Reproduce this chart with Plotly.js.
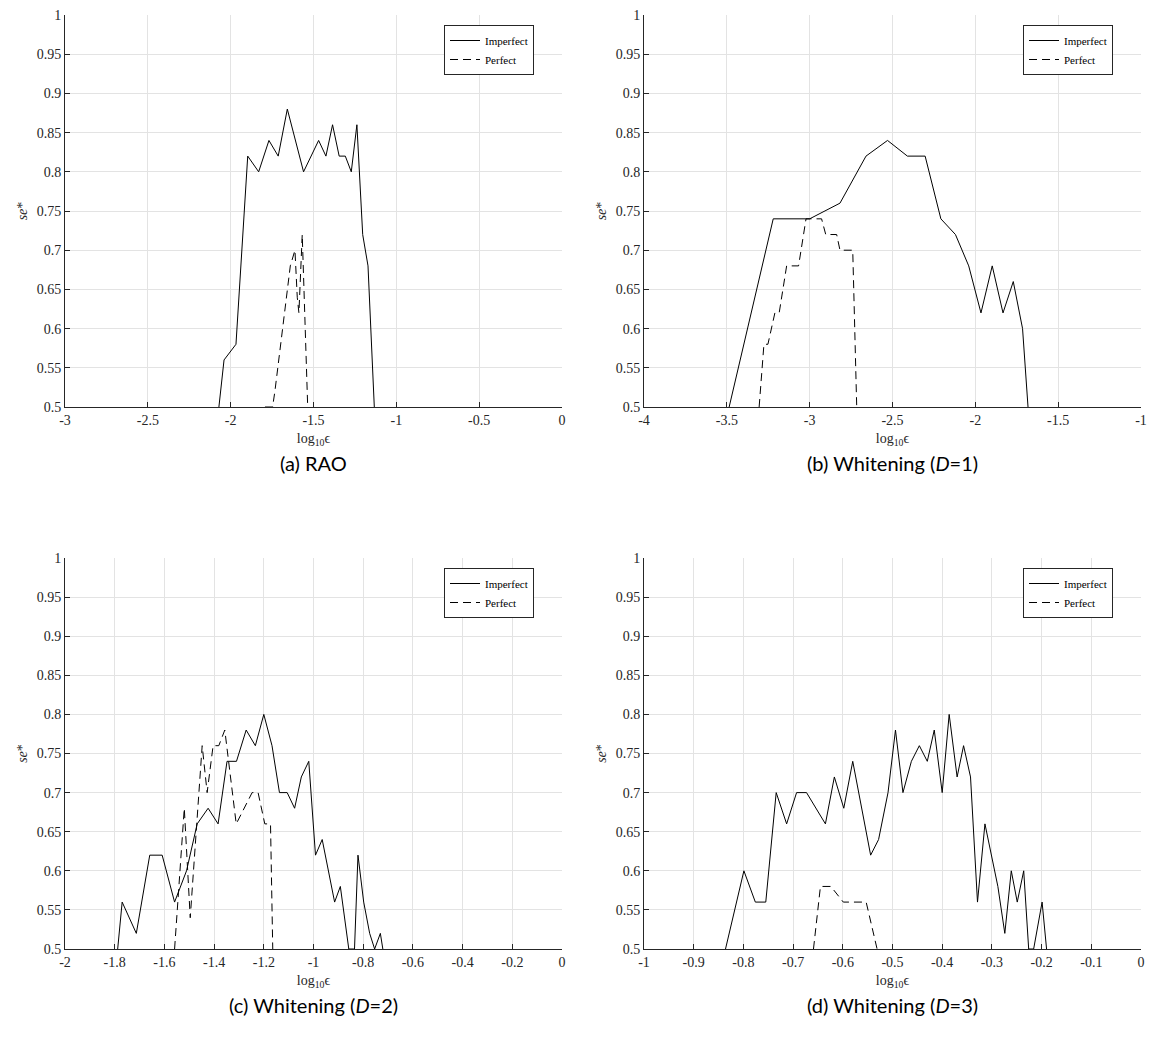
<!DOCTYPE html>
<html>
<head>
<meta charset="utf-8">
<script src="https://cdn.plot.ly/plotly-3.0.1.min.js"></script>
<style>html,body{margin:0;padding:0;background:#fff;}#chart{width:1149px;height:1052px;}</style>
</head>
<body>
<div id="chart"></div>
<script>
// ---- data ----
const seriesNames = ["Imperfect", "Perfect"];
const panelCaptions = ["(a) RAO", "(b) Whitening (<i>D</i>=1)", "(c) Whitening (<i>D</i>=2)", "(d) Whitening (<i>D</i>=3)"];

const raoImperfectX = [-2.071,-2.04,-1.968,-1.897,-1.831,-1.769,-1.713,-1.658,-1.56,-1.469,-1.425,-1.385,-1.345,-1.308,-1.272,-1.238,-1.203,-1.171,-1.133];
const raoImperfectY = [0.5,0.56,0.58,0.82,0.80,0.84,0.82,0.88,0.80,0.84,0.82,0.86,0.82,0.82,0.80,0.86,0.72,0.68,0.5];
const raoPerfectX = [-1.793,-1.747,-1.733,-1.64,-1.612,-1.598,-1.588,-1.568,-1.535];
const raoPerfectY = [0.5,0.5,0.52,0.68,0.70,0.64,0.62,0.72,0.5];

const w1ImperfectX = [-3.486,-3.22,-3.0,-2.817,-2.66,-2.53,-2.41,-2.303,-2.208,-2.12,-2.04,-1.966,-1.898,-1.833,-1.771,-1.715,-1.682];
const w1ImperfectY = [0.5,0.74,0.74,0.76,0.82,0.84,0.82,0.82,0.74,0.72,0.68,0.62,0.68,0.62,0.66,0.60,0.5];
const w1PerfectX = [-3.305,-3.276,-3.252,-3.21,-3.184,-3.139,-3.067,-3.022,-2.928,-2.903,-2.837,-2.817,-2.74,-2.716];
const w1PerfectY = [0.5,0.58,0.58,0.62,0.62,0.68,0.68,0.74,0.74,0.72,0.72,0.70,0.70,0.5];

const w2ImperfectX = [-1.788,-1.770,-1.713,-1.659,-1.609,-1.559,-1.511,-1.468,-1.424,-1.384,-1.348,-1.310,-1.271,-1.234,-1.2,-1.167,-1.137,-1.106,-1.076,-1.049,-1.019,-0.992,-0.965,-0.915,-0.892,-0.858,-0.835,-0.821,-0.798,-0.774,-0.754,-0.731,-0.721];
const w2ImperfectY = [0.5,0.56,0.52,0.62,0.62,0.56,0.60,0.66,0.68,0.66,0.74,0.74,0.78,0.76,0.80,0.76,0.70,0.70,0.68,0.72,0.74,0.62,0.64,0.56,0.58,0.5,0.5,0.62,0.56,0.52,0.5,0.52,0.5];
const w2PerfectX = [-1.559,-1.52,-1.496,-1.448,-1.428,-1.404,-1.381,-1.357,-1.311,-1.247,-1.223,-1.196,-1.173,-1.164];
const w2PerfectY = [0.5,0.68,0.54,0.76,0.70,0.76,0.76,0.78,0.66,0.70,0.70,0.66,0.66,0.5];

const w3ImperfectX = [-0.836,-0.799,-0.776,-0.755,-0.734,-0.713,-0.693,-0.673,-0.635,-0.617,-0.598,-0.580,-0.544,-0.528,-0.509,-0.494,-0.479,-0.462,-0.446,-0.430,-0.416,-0.400,-0.386,-0.370,-0.357,-0.343,-0.329,-0.314,-0.288,-0.274,-0.261,-0.249,-0.236,-0.226,-0.216,-0.199,-0.190];
const w3ImperfectY = [0.5,0.60,0.56,0.56,0.70,0.66,0.70,0.70,0.66,0.72,0.68,0.74,0.62,0.64,0.70,0.78,0.70,0.74,0.76,0.74,0.78,0.70,0.80,0.72,0.76,0.72,0.56,0.66,0.58,0.52,0.60,0.56,0.60,0.5,0.5,0.56,0.5];
const w3PerfectX = [-0.659,-0.645,-0.624,-0.599,-0.553,-0.531];
const w3PerfectY = [0.5,0.58,0.58,0.56,0.56,0.5];

const yTickVals = [0.5,0.55,0.6,0.65,0.7,0.75,0.8,0.85,0.9,0.95,1];
const yTickText = ["0.5","0.55","0.6","0.65","0.7","0.75","0.8","0.85","0.9","0.95","1"];
const xTickValsA = [-3,-2.5,-2,-1.5,-1,-0.5,0];
const xTickTextA = ["-3","-2.5","-2","-1.5","-1","-0.5","0"];
const xTickValsB = [-4,-3.5,-3,-2.5,-2,-1.5,-1];
const xTickTextB = ["-4","-3.5","-3","-2.5","-2","-1.5","-1"];
const xTickValsC = [-2,-1.8,-1.6,-1.4,-1.2,-1,-0.8,-0.6,-0.4,-0.2,0];
const xTickTextC = ["-2","-1.8","-1.6","-1.4","-1.2","-1","-0.8","-0.6","-0.4","-0.2","0"];
const xTickValsD = [-1,-0.9,-0.8,-0.7,-0.6,-0.5,-0.4,-0.3,-0.2,-0.1,0];
const xTickTextD = ["-1","-0.9","-0.8","-0.7","-0.6","-0.5","-0.4","-0.3","-0.2","-0.1","0"];

// ---- build ----
const W = 1149, H = 1052;
const SERIF = "Liberation Serif";
const panels = [
  {ix: raoImperfectX, iy: raoImperfectY, px: raoPerfectX, py: raoPerfectY, range: [-3,0], tv: xTickValsA, tt: xTickTextA},
  {ix: w1ImperfectX, iy: w1ImperfectY, px: w1PerfectX, py: w1PerfectY, range: [-4,-1], tv: xTickValsB, tt: xTickTextB},
  {ix: w2ImperfectX, iy: w2ImperfectY, px: w2PerfectX, py: w2PerfectY, range: [-2,0], tv: xTickValsC, tt: xTickTextC},
  {ix: w3ImperfectX, iy: w3ImperfectY, px: w3PerfectX, py: w3PerfectY, range: [-1,0], tv: xTickValsD, tt: xTickTextD}
];
// pixel boxes [left, right, top, bottom]
const boxes = [[65,562,15,407],[644,1141,15,407],[65,562,558,949],[644,1141,558,949]];

const traces = [];
const layout = {
  width: W, height: H,
  margin: {l:0, r:0, t:0, b:0},
  paper_bgcolor: "#fff", plot_bgcolor: "#fff",
  showlegend: true,
  font: {family: SERIF, size: 14, color: "#262626"},
  annotations: []
};

panels.forEach((p, i) => {
  const n = i === 0 ? "" : String(i + 1);
  const xa = "x" + n, ya = "y" + n;
  const lg = i === 0 ? "legend" : "legend" + (i + 1);
  traces.push({x: p.ix, y: p.iy, xaxis: xa, yaxis: ya, type: "scatter", mode: "lines",
    name: seriesNames[0], legend: lg, line: {color: "#000", width: 1}});
  traces.push({x: p.px, y: p.py, xaxis: xa, yaxis: ya, type: "scatter", mode: "lines",
    name: seriesNames[1], legend: lg, line: {color: "#000", width: 1, dash: "8px,5px"}});
  const b = boxes[i];
  const common = {showgrid: true, gridcolor: "#e3e3e3", gridwidth: 1, zeroline: false,
    showline: true, linecolor: "#262626", linewidth: 1, ticks: "inside", ticklen: 5,
    tickcolor: "#262626", tickfont: {family: SERIF, size: 14, color: "#262626"}, mirror: false};
  layout["xaxis" + n] = Object.assign({}, common, {
    domain: [b[0]/W, b[1]/W], range: p.range, anchor: ya,
    tickmode: "array", tickvals: p.tv, ticktext: p.tt,
    title: {text: "log<sub>10</sub>ϵ", font: {family: SERIF, size: 14, color: "#262626"}, standoff: 6}
  });
  layout["yaxis" + n] = Object.assign({}, common, {
    domain: [1 - b[3]/H, 1 - b[2]/H], range: [0.5, 1], anchor: xa,
    tickmode: "array", tickvals: yTickVals, ticktext: yTickText,
    title: {text: "<i>se</i>*", font: {family: SERIF, size: 14, color: "#262626"}, standoff: 5}
  });
  layout[lg] = {
    x: (b[1] - 28)/W, xanchor: "right", y: 1 - (b[2] + 10)/H, yanchor: "top",
    bgcolor: "#fff", bordercolor: "#262626", borderwidth: 1,
    font: {family: SERIF, size: 11, color: "#000"},
    itemwidth: 30, tracegroupgap: 0
  };
  layout.annotations.push({
    xref: "paper", yref: "paper", x: ((b[0] + b[1])/2)/W, y: 1 - (b[3] + 56)/H,
    xanchor: "center", yanchor: "middle", showarrow: false,
    text: panelCaptions[i], font: {family: "Lato", size: 20, color: "#000"}
  });
});

Plotly.newPlot("chart", traces, layout, {staticPlot: true, displayModeBar: false});
</script>
</body>
</html>
